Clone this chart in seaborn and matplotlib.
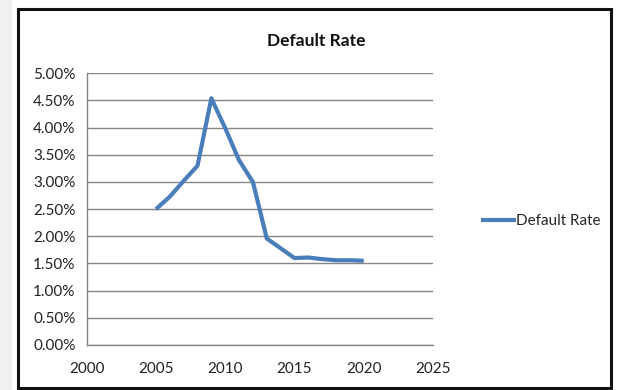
import matplotlib
matplotlib.use("Agg")
import matplotlib.pyplot as plt
from matplotlib.patches import Rectangle
from matplotlib.ticker import FuncFormatter, MultipleLocator
import pandas as pd
import seaborn as sns

# Annual default rate (fraction)
years = [2005, 2006, 2007, 2008, 2009, 2010, 2011, 2012,
         2013, 2014, 2015, 2016, 2017, 2018, 2019, 2020]
default_rate = [0.0250, 0.0273, 0.0302, 0.0330, 0.0454, 0.0399, 0.0340, 0.0300,
                0.0196, 0.0178, 0.0160, 0.0161, 0.0158, 0.0156, 0.0156, 0.0155]
series_name = "Default Rate"
x_ticks = [2000, 2005, 2010, 2015, 2020, 2025]

df = pd.DataFrame({"Year": years, series_name: default_rate})

sns.set_theme(style="white")
plt.rcParams["font.family"] = ["Lato", "DejaVu Sans"]

W, H = 619, 390
fig = plt.figure(figsize=(W / 100, H / 100), dpi=100)
fig.patch.set_facecolor("white")

# light margin strip on the left edge
fig.patches.append(Rectangle((0, 0), 12 / W, 1, transform=fig.transFigure,
                             facecolor="#F0F0F0", edgecolor="none", zorder=0))
# outer chart frame
fig.patches.append(Rectangle((18 / W, 1 - 388 / H), (611 - 18) / W, (388 - 9) / H,
                             transform=fig.transFigure, fill=False,
                             edgecolor="#111111", linewidth=2.2, zorder=0))

ax = fig.add_axes([86.7 / W, 1 - 345 / H, (433 - 86.7) / W, (345 - 73.3) / H])
ax.set_facecolor("none")

grid_col = "#868686"
sns.lineplot(data=df, x="Year", y=series_name, ax=ax, color="#4A7EBB",
             linewidth=3.0, label=series_name, solid_capstyle="butt",
             solid_joinstyle="round", zorder=3)

ax.set_xlim(2000, 2025)
ax.set_ylim(0, 0.05)
ax.set_xticks(x_ticks)
ax.yaxis.set_major_locator(MultipleLocator(0.005))
ax.yaxis.set_major_formatter(FuncFormatter(lambda v, _: f"{v * 100:.2f}%"))
ax.set_xlabel("")
ax.set_ylabel("")
ax.grid(axis="y", color=grid_col, linewidth=1.0)
ax.grid(axis="x", visible=False)
for side in ("top", "right"):
    ax.spines[side].set_visible(False)
for side in ("left", "bottom"):
    ax.spines[side].set_color(grid_col)
    ax.spines[side].set_linewidth(1.0)
ax.tick_params(axis="both", direction="out", length=5, width=1.0,
               color=grid_col, labelsize=11, labelcolor="#222222")
ax.tick_params(axis="y", pad=3)
ax.tick_params(axis="x", pad=7)

fig.text(316 / W, 1 - 41 / H, "Default Rate", ha="center", va="center",
         fontsize=12.5, fontweight="bold", color="#111111")

ax.legend(loc="center left", bbox_to_anchor=(473 / W, 1 - 221 / H),
          bbox_transform=fig.transFigure, frameon=False, fontsize=11,
          handlelength=2.3, handletextpad=0.0, borderpad=0)

fig.savefig("out.png", dpi=100)
